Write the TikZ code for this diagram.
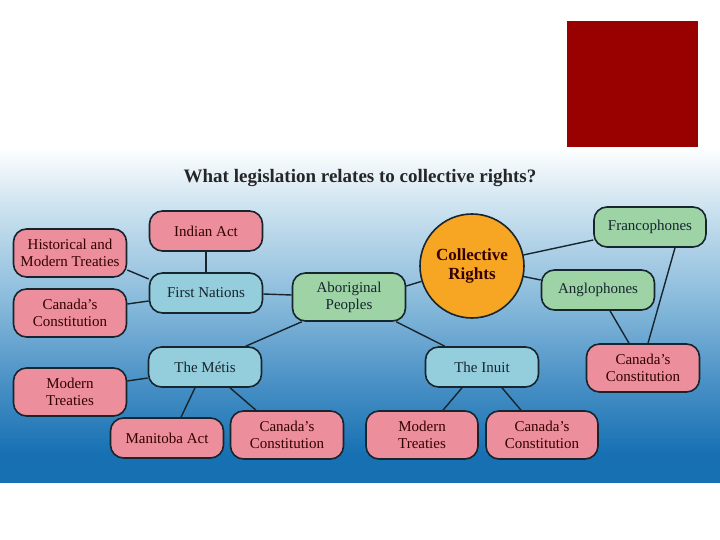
\documentclass[tikz,border=0pt]{standalone}
\usepackage{fontspec}
\setmainfont{Liberation Serif}
\definecolor{pinkbox}{HTML}{EC8E9B}
\definecolor{bluebox}{HTML}{94CEDD}
\definecolor{greenbox}{HTML}{9ED3A6}
\definecolor{orangec}{HTML}{F6A623}
\definecolor{edgec}{HTML}{16252E}
\definecolor{darkred}{HTML}{990000}
\definecolor{bgA}{HTML}{1670B2}
\definecolor{bgB}{HTML}{4A91C6}
\definecolor{bgC}{HTML}{8BBCDC}
\definecolor{bgD}{HTML}{C2DCEC}
\pgfdeclareverticalshading{bgshade}{100bp}{color(0bp)=(bgA); color(29bp)=(bgA); color(40bp)=(bgB); color(52.5bp)=(bgC); color(64bp)=(bgD); color(75bp)=(white); color(100bp)=(white)}
\tikzset{
  box/.style={draw=edgec, line width=1.6pt, rounded corners=13pt, minimum width=113pt, align=center, font=\fontsize{15}{17}\selectfont, inner sep=2pt},
  pinkb/.style={box, fill=pinkbox, text=black!80!red, minimum height=48pt},
  pinks/.style={box, fill=pinkbox, text=black!80!red, minimum height=40pt},
  blueb/.style={box, fill=bluebox, text=edgec, minimum height=40pt},
  greenb/.style={box, fill=greenbox, text=edgec, minimum height=40pt},
  link/.style={draw=edgec, line width=1.4pt},
}
\begin{document}
\begin{tikzpicture}[x=1pt,y=-1pt]
\useasboundingbox (0,0) rectangle (720,540);
\fill[white] (0,0) rectangle (720,540);
\shade[shading=bgshade] (0,147) rectangle (720,482);
\fill[darkred] (567,21) rectangle (698,147);
\node[font=\bfseries\fontsize{19}{21}\selectfont, text=black!85] (title) at (360,178) {What legislation relates to collective rights?};

\node[pinks] (indian) at (206,231) {Indian Act};
\node[pinkb] (hist) at (70,253) {Historical and\\Modern Treaties};
\node[blueb] (fn) at (206,293) {First Nations};
\node[pinkb] (cc1) at (70,313) {Canada's\\Constitution};
\node[greenb, minimum height=48pt] (abor) at (349,297) {Aboriginal\\Peoples};
\node[circle, draw=edgec, line width=1.6pt, fill=orangec, minimum size=104pt, align=center, font=\bfseries\fontsize{17}{18.5}\selectfont, text=black!80!red, inner sep=0pt] (coll) at (472,266) {Collective\\Rights};
\node[greenb, minimum width=112pt] (franco) at (650,227) {Francophones};
\node[greenb] (anglo) at (598,290) {Anglophones};
\node[pinkb] (cc2) at (643,368) {Canada's\\Constitution};
\node[blueb] (metis) at (205,367) {The Métis};
\node[blueb] (inuit) at (482,367) {The Inuit};
\node[pinkb] (mt1) at (70,392) {Modern\\Treaties};
\node[pinks] (manitoba) at (167,438) {Manitoba Act};
\node[pinkb] (cc3) at (287,435) {Canada's\\Constitution};
\node[pinkb, minimum width=112pt] (mt2) at (422,435) {Modern\\Treaties};
\node[pinkb, minimum width=112pt] (cc4) at (542,435) {Canada's\\Constitution};

\draw[link] (indian.south) -- (fn.north);
\draw[link] (hist.east |- 0,270) -- (fn.west |- 0,279);
\draw[link] (cc1.east |- 0,304) -- (fn.west |- 0,301);
\draw[link] (fn.east |- 0,294) -- (abor.west |- 0,295);
\draw[link] (abor.east |- 0,286) -- (coll);
\draw[link] ([xshift=10pt]abor.south west) -- ([xshift=98pt]metis.north west);
\draw[link] ([xshift=-10pt]abor.south east) -- ([xshift=20pt]inuit.north west);
\draw[link] (coll) -- (franco.west |- 0,240);
\draw[link] (coll) -- (anglo.west |- 0,280);
\draw[link] (anglo.south -| 610,0) -- (cc2.north -| 629,0);
\draw[link] (franco.south -| 675,0) -- (cc2.north -| 648,0);
\draw[link] (metis.west |- 0,378) -- (mt1.east |- 0,381);
\draw[link] (metis.south -| 195,0) -- (manitoba.north -| 181,0);
\draw[link] (metis.south -| 230,0) -- (cc3.north -| 256,0);
\draw[link] (inuit.south -| 462,0) -- (mt2.north -| 443,0);
\draw[link] (inuit.south -| 502,0) -- (cc4.north -| 521,0);
\end{tikzpicture}
\end{document}
